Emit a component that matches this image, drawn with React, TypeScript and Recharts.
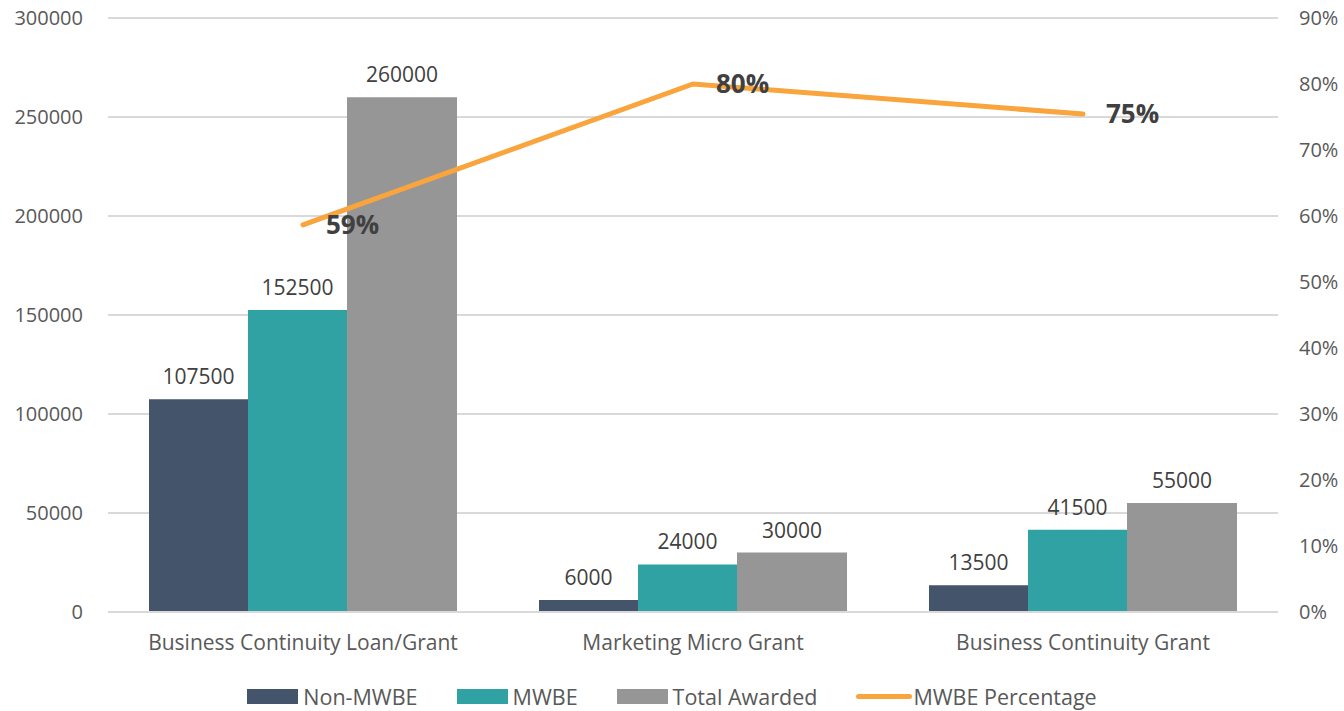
import {
  ComposedChart,
  Bar,
  Line,
  XAxis,
  YAxis,
  CartesianGrid,
  Legend,
  LabelList,
} from "recharts";

const categories = [
  "Business Continuity Loan/Grant",
  "Marketing Micro Grant",
  "Business Continuity Grant",
];
const nonMwbe = [107500, 6000, 13500];
const mwbe = [152500, 24000, 41500];
const totalAwarded = [260000, 30000, 55000];
const mwbePct = [0.5865, 0.8, 0.7545];

const leftTicks = [0, 50000, 100000, 150000, 200000, 250000, 300000];
const rightTicks = [0, 0.1, 0.2, 0.3, 0.4, 0.5, 0.6, 0.7, 0.8, 0.9];

const data = categories.map((name, i) => ({
  name,
  nonMwbe: nonMwbe[i],
  mwbe: mwbe[i],
  total: totalAwarded[i],
  pct: mwbePct[i],
}));

const FONT = "'Open Sans', sans-serif";
const TEXT = "#595959";

const legendItems = [
  { label: "Non-MWBE", color: "#44546A", line: false },
  { label: "MWBE", color: "#31A2A4", line: false },
  { label: "Total Awarded", color: "#969696", line: false },
  { label: "MWBE Percentage", color: "#F9A43C", line: true },
];

const CustomLegend = () => (
  <div
    style={{
      display: "flex",
      justifyContent: "center",
      alignItems: "center",
      gap: 39,
      fontFamily: FONT,
      fontSize: 21.5,
      color: TEXT,
    }}
  >
    {legendItems.map((it) => (
      <div key={it.label} style={{ display: "flex", alignItems: "center" }}>
        <span
          style={{
            display: "inline-block",
            width: it.line ? 56 : 51,
            height: it.line ? 5 : 15,
            borderRadius: it.line ? 3 : 0,
            background: it.color,
            marginRight: it.line ? 1 : 5,
          }}
        />
        {it.label}
      </div>
    ))}
  </div>
);

const PctLabel = (props: any) => {
  const { x, y, value } = props;
  return (
    <text
      x={x + 23}
      y={y + 2}
      dominantBaseline="middle"
      fill="#404040"
      fontFamily={FONT}
      fontWeight={700}
      fontSize={26}
    >
      {Math.round(value * 100)}%
    </text>
  );
};

const App = () => {
  return (
    <div style={{ position: "absolute", left: 0, top: 0 }}>
      <ComposedChart
        width={1344}
        height={711}
        data={data}
        margin={{ top: 18, right: 0, left: 0, bottom: 0 }}
        barGap={0}
      >
        <CartesianGrid stroke="#D9D9D9" strokeWidth={2} vertical={false} yAxisId="left" />
        <XAxis
          dataKey="name"
          axisLine={{ stroke: "#D9D9D9", strokeWidth: 2 }}
          tickLine={false}
          tickSize={0}
          tickMargin={23}
          height={70}
          tick={{ fill: TEXT, fontFamily: FONT, fontSize: 21 }}
        />
        <YAxis
          yAxisId="left"
          domain={[0, 300000]}
          ticks={leftTicks}
          width={108}
          axisLine={false}
          tickLine={false}
          tickSize={0}
          tickMargin={25}
          tick={{ fill: TEXT, fontFamily: FONT, fontSize: 20 }}
        />
        <YAxis
          yAxisId="right"
          orientation="right"
          domain={[0, 0.9]}
          ticks={rightTicks}
          width={66}
          axisLine={false}
          tickLine={false}
          tickSize={0}
          tickMargin={21}
          tickFormatter={(v: number) => `${Math.round(v * 100)}%`}
          tick={{ fill: TEXT, fontFamily: FONT, fontSize: 20 }}
        />
        <Legend
          verticalAlign="bottom"
          content={<CustomLegend />}
          wrapperStyle={{ bottom: 0 }}
        />
        <Bar yAxisId="left" dataKey="nonMwbe" fill="#44546A" barSize={99} isAnimationActive={false}>
          <LabelList dataKey="nonMwbe" position="top" offset={15} fill="#404040" fontFamily={FONT} fontSize={21} />
        </Bar>
        <Bar yAxisId="left" dataKey="mwbe" fill="#31A2A4" barSize={99} isAnimationActive={false}>
          <LabelList dataKey="mwbe" position="top" offset={15} fill="#404040" fontFamily={FONT} fontSize={21} />
        </Bar>
        <Bar yAxisId="left" dataKey="total" fill="#969696" barSize={110} isAnimationActive={false}>
          <LabelList dataKey="total" position="top" offset={15} fill="#404040" fontFamily={FONT} fontSize={21} />
        </Bar>
        <Line
          yAxisId="right"
          dataKey="pct"
          type="linear"
          stroke="#F9A43C"
          strokeWidth={5}
          strokeLinecap="round"
          dot={false}
          activeDot={false}
          isAnimationActive={false}
        >
          <LabelList dataKey="pct" content={<PctLabel />} />
        </Line>
      </ComposedChart>
    </div>
  );
};

export default App;
